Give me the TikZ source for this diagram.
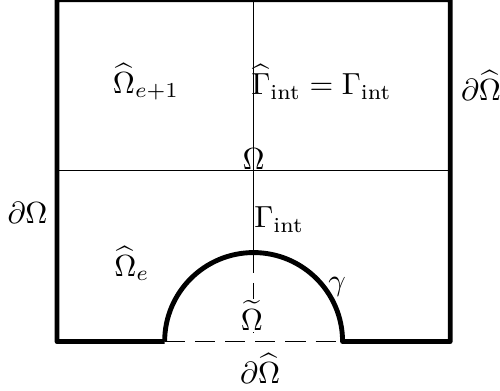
\documentclass[tikz,border=0pt]{standalone}
\usepackage{amsmath}
\tikzset{borda/.style={line width=1.6pt,line join=round},
  fina/.style={line width=0.4pt},
  tracejada/.style={line width=0.4pt,dash pattern=on 6.6pt off 3.3pt},
  rot/.style={inner sep=0pt}}
\begin{document}
\begin{tikzpicture}[scale=1]
\useasboundingbox (-0.657,-0.565) rectangle (5.104,3.935);
\coordinate (A) at (0,0);
\coordinate (B) at (4.53,0);
\coordinate (C) at (4.53,3.94);
\coordinate (D) at (0,3.94);
\coordinate (M) at (2.265,0);
\coordinate (L) at (1.24,0);
\coordinate (R) at (3.29,0);
\coordinate (T) at (2.265,1.025);
\coordinate (N) at (2.265,3.94);
\coordinate (E) at (0,1.97);
\coordinate (F) at (4.53,1.97);
\coordinate (O) at (2.265,1.97);
\draw[fina] (E) -- (F);
\draw[fina] (N) -- (T);
\draw[tracejada] (T) -- (M);
\draw[tracejada] (L) -- (R);
\draw[borda] (L) -- (A) -- (D) -- (C) -- (B) -- (R) arc[start angle=0,end angle=180,radius=1.025];
\node[rot] (Oe1) at (1.025,2.99) {$\widehat{\Omega}_{e+1}$};
\node[rot] (Gh) at (3.047,2.99) {$\widehat{\Gamma}_{\text{int}}=\Gamma_{\text{int}}$};
\node[rot] (dOr) at (4.885,2.95) {$\partial\widehat{\Omega}$};
\node[rot,anchor=south] (Om) at (O) {$\Omega$};
\node[rot] (dOl) at (-0.34,1.48) {$\partial\Omega$};
\node[rot] (Gi) at (2.56,1.405) {$\Gamma_{\text{int}}$};
\node[rot] (Oe) at (0.864,0.898) {$\widehat{\Omega}_e$};
\node[rot] (gam) at (3.226,0.634) {$\gamma$};
\node[rot,fill=white,inner sep=0.5pt] (Ot) at (2.246,0.30) {$\widetilde{\Omega}$};
\node[rot] (dOb) at (2.34,-0.31) {$\partial\widehat{\Omega}$};
\end{tikzpicture}
\end{document}
